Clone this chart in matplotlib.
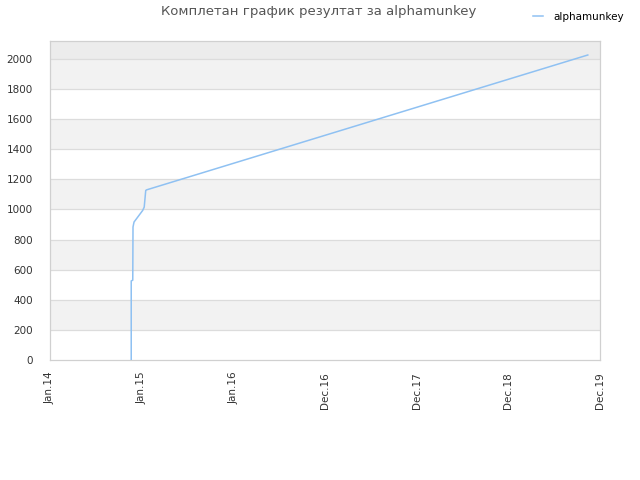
import matplotlib
matplotlib.use("Agg")
import matplotlib.pyplot as plt
import pandas as pd
import numpy as np
import matplotlib.dates as mdates

title = "Комплетан график резултат за alphamunkey"
series_name = "alphamunkey"
dates = ['2014-11-16', '2014-11-16', '2014-11-22', '2014-11-23', '2014-11-27',
         '2014-12-31', '2015-01-06', '2015-01-12', '2015-01-16', '2019-10-14']
scores = [0, 525, 530, 883, 916, 993, 1015, 1126, 1130, 2025]
tick_labels = ['Jan.14', 'Jan.15', 'Jan.16', 'Dec.16', 'Dec.17', 'Dec.18', 'Dec.19']
yticks = [0, 200, 400, 600, 800, 1000, 1200, 1400, 1600, 1800, 2000]

x_start = pd.Timestamp('2014-01-01')
x_end = pd.Timestamp('2019-12-01')
ymax = 2120

fig = plt.figure(figsize=(6.4, 4.8), dpi=100)
ax = fig.add_axes([50/640, 120/480, 550/640, (360-40.7)/480])

x = mdates.date2num(pd.to_datetime(dates))
x0, x1 = mdates.date2num(x_start), mdates.date2num(x_end)

# background bands
for i, lo in enumerate(yticks[:-1]):
    if i % 2 == 1:
        ax.axhspan(lo, lo + 200, color='#f2f2f2', zorder=0, lw=0)
ax.axhspan(2000, ymax, color='#ececec', zorder=0, lw=0)
for yv in yticks[1:]:
    ax.axhline(yv, color='#dcdcdc', lw=0.9, zorder=1)

ax.plot(x, scores, color='#8fc1f2', lw=1.1, zorder=3, label=series_name)

ax.set_xlim(x0, x1)
ax.set_ylim(0, ymax)
ax.set_xticks(np.linspace(x0, x1, len(tick_labels)))
ax.set_xticklabels(tick_labels, rotation=90, fontsize=7.5, color='#333333')
ax.set_yticks(yticks)
ax.set_yticklabels([str(v) for v in yticks], fontsize=7.5, color='#333333')
ax.tick_params(axis='x', length=0, pad=8.5)
ax.tick_params(axis='y', length=0, pad=12.5)
for s in ax.spines.values():
    s.set_color('#d0d0d0')
    s.set_linewidth(0.9)

fig.text(319/640, 1 - 12/480, title, ha='center', va='center', fontsize=9.5, color='#555555')
fig.legend(loc='upper right', bbox_to_anchor=(0.99, 0.995), frameon=False,
           fontsize=7.5, handlelength=1.0, handletextpad=1.0)

fig.savefig('out.png', dpi=100, facecolor='white')
